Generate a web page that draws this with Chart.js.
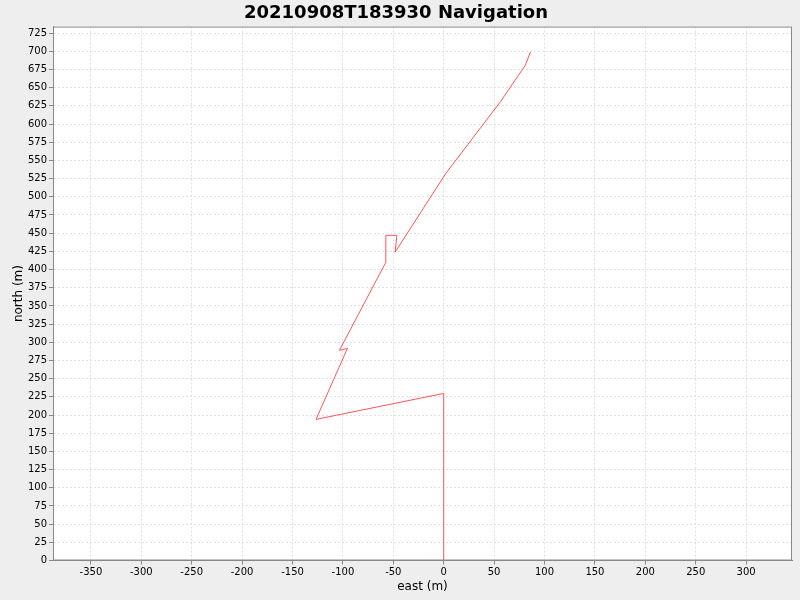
<!DOCTYPE html>
<html>
<head>
<meta charset="utf-8">
<script src="https://cdn.jsdelivr.net/npm/chart.js@4"></script>
<style>
  html, body { margin: 0; padding: 0; background: #eeeeee; }
  #wrap { width: 800px; height: 600px; }
</style>
</head>
<body>
<div id="wrap"><canvas id="nav" width="800" height="600"></canvas></div>
<script>
// track of the vehicle (metres)
var eastValues  = [0, 0, -126.7, -95.5, -103.5, -57.4, -57.4, -46.5, -48.2, 2, 56.4, 81, 86];
var northValues = [0, 229.7, 194, 291.6, 288.9, 410, 447, 447, 424, 532, 631, 681, 699];

var points = eastValues.map(function(e, i) { return {x: e, y: northValues[i]}; });

// plot background + outline, like the java chart
var plotBg = {
  id: 'plotBg',
  beforeDraw: function(chart) {
    var ctx = chart.ctx, a = chart.chartArea;
    ctx.save();
    ctx.fillStyle = '#eeeeee';
    ctx.fillRect(0, 0, chart.width, chart.height);
    ctx.fillStyle = '#ffffff';
    ctx.fillRect(a.left, a.top, a.right - a.left, a.bottom - a.top);
    ctx.restore();
  },
  afterDraw: function(chart) {
    var ctx = chart.ctx, a = chart.chartArea;
    ctx.save();
    ctx.strokeStyle = '#888888';
    ctx.lineWidth = 1;
    ctx.strokeRect(a.left + 0.5, a.top + 0.5, a.right - a.left - 1, a.bottom - a.top - 1);
    ctx.restore();
  }
};

var tickFont = {family: 'DejaVu Sans', size: 10};
var axisFont = {family: 'DejaVu Sans', size: 12};

var chart = new Chart('nav', {
  type: 'scatter',
  plugins: [plotBg],
  data: {
    datasets: [{
      label: 'track',
      data: points,
      showLine: true,
      borderColor: '#ff5555',
      borderWidth: 1,
      pointRadius: 0,
      fill: false,
      tension: 0
    }]
  },
  options: {
    responsive: false,
    animation: false,
    layout: { padding: { right: 8 } },
    plugins: {
      legend: { display: false },
      tooltip: { enabled: false },
      title: {
        display: true,
        text: '20210908T183930 Navigation',
        color: '#000000',
        font: {family: 'DejaVu Sans', size: 18, weight: 'bold'},
        padding: {top: 3, bottom: 2}
      }
    },
    scales: {
      x: {
        type: 'linear',
        min: -387.6,
        max: 345.5,
        afterFit: function(s) { s.height = 39.5; },
        ticks: { stepSize: 50, includeBounds: false, font: tickFont, color: '#000', padding: 2, maxRotation: 0 },
        grid: { color: '#e0e0e0', tickColor: '#888888', tickLength: 4, tickBorderDash: [] },
        border: { color: '#888888', dash: [2, 2] },
        title: { display: true, text: 'east (m)', font: axisFont, color: '#000', padding: {top: 0, bottom: 6} }
      },
      y: {
        type: 'linear',
        min: 0,
        max: 734,
        afterFit: function(s) { s.width = 53; },
        ticks: { stepSize: 25, includeBounds: false, font: tickFont, color: '#000', padding: 2 },
        grid: { color: '#e0e0e0', tickColor: '#888888', tickLength: 4, tickBorderDash: [] },
        border: { color: '#888888', dash: [2, 2] },
        title: { display: true, text: 'north (m)', font: axisFont, color: '#000', padding: {top: 12, bottom: 0} }
      }
    }
  }
});
</script>
</body>
</html>
